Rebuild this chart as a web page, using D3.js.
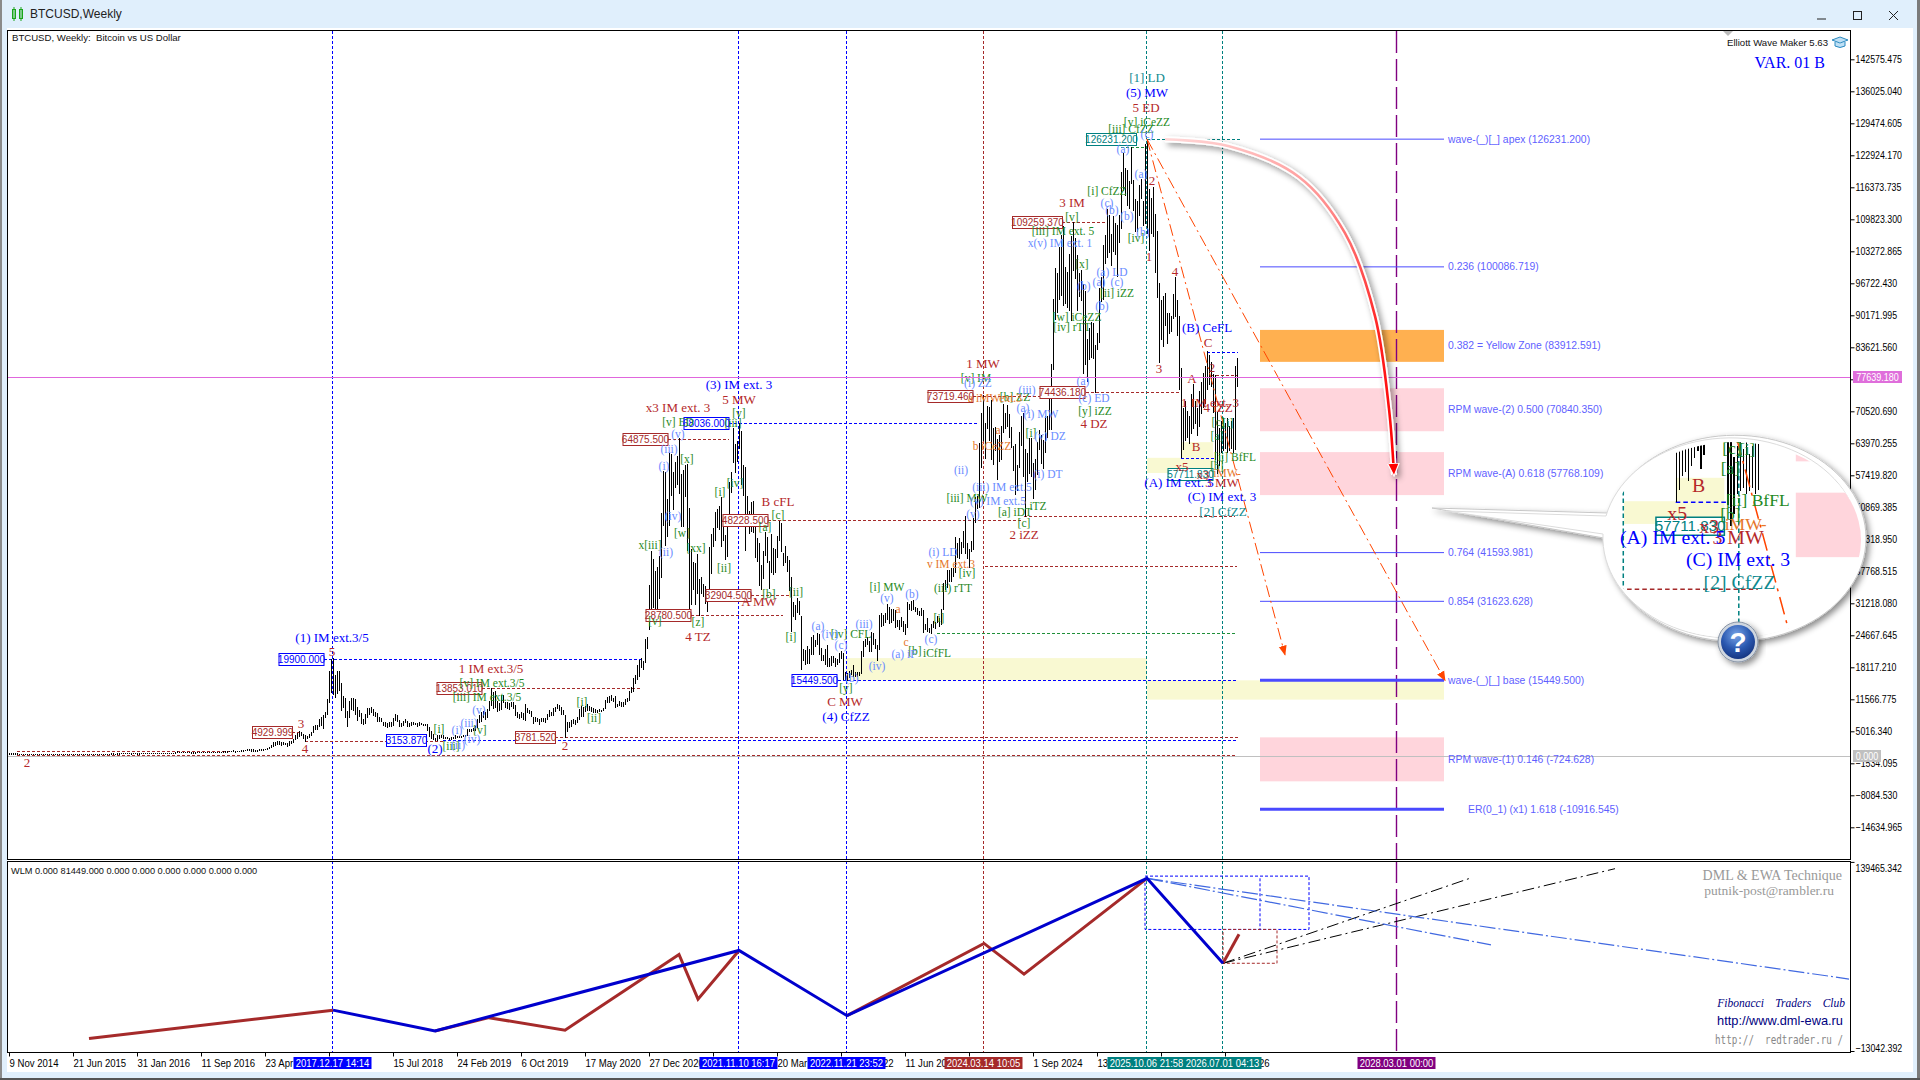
<!DOCTYPE html>
<html><head><meta charset="utf-8">
<script src="https://cdnjs.cloudflare.com/ajax/libs/d3/7.8.5/d3.min.js"></script>
<style>
html,body{margin:0;padding:0;background:#fff;overflow:hidden}
svg{display:block}
text{white-space:pre}
</style></head><body>
<svg id="c" width="1920" height="1080" xmlns="http://www.w3.org/2000/svg"></svg>
<script>
// ---------- weekly bars, in thousands of dollars (index: weeks since 9 Nov 2014)
const segmentStarts=[0,8,60,112,164,216,268,320,372,424,477,529,581];
const highs2014=[.47,.40,.39,.38,.38,.36,.34,.33];
const lows2014=[.36,.34,.35,.36,.35,.31,.30,.31];
const highs2015=[.32,.29,.31,.27,.26,.25,.24,.26,.30,.30,.29,.29,.26, .26,.25,.24,.24,.25,.25,.24,.24,.23,.23,.25,.26,.27, .31,.30,.30,.30,.28,.28,.28,.26,.24,.24,.24,.24,.25, .26,.27,.30,.34,.49,.39,.34,.39,.42,.47,.47,.46,.44];
const lows2015=[.18,.20,.21,.22,.22,.22,.21,.23,.26,.27,.24,.24,.23, .22,.21,.21,.22,.23,.23,.23,.22,.22,.22,.23,.24,.25, .26,.27,.28,.26,.21,.22,.22,.22,.22,.22,.22,.23,.23, .24,.25,.26,.28,.33,.30,.31,.32,.36,.39,.43,.42,.42];
const highs2016=[.46,.46,.40,.42,.39,.38,.40,.44,.45,.44,.42,.42,.42, .42,.42,.43,.47,.47,.46,.46,.46,.49,.55,.70,.78,.72, .68,.67,.68,.68,.66,.61,.59,.58,.61,.62,.61,.61,.61, .62,.64,.65,.69,.72,.74,.75,.75,.78,.79,.80,.92,.98];
const lows2016=[.42,.36,.37,.37,.36,.36,.37,.40,.40,.41,.41,.41,.41, .41,.41,.42,.43,.43,.44,.44,.44,.45,.49,.57,.60,.60, .63,.64,.64,.65,.58,.50,.56,.56,.58,.60,.60,.59,.59, .60,.61,.63,.63,.68,.68,.70,.72,.73,.75,.76,.79,.88];
const highs2017=[1.15,.93,.92,.97,1.03,1.05,1.06,1.20,1.29,1.33,1.28,1.05,1.10, 1.21,1.22,1.21,1.29,1.45,1.76,2.2,2.8,2.65,2.98,2.98,2.8,2.7, 2.6,2.6,2.95,2.9,3.4,4.2,4.5,4.9,4.7,4.4,4.1,3.9,4.4, 4.7,5.9,6.2,6.2,7.5,7.9,8.3,8.8,11.5,17.2,19.7,19.9,16.5];
const lows2017=[.78,.77,.82,.88,.93,.98,.99,1.03,1.18,.98,.93,.89,.95, 1.05,1.16,1.15,1.19,1.27,1.5,1.7,2.0,2.1,2.4,2.4,2.1,2.3, 2.3,2.0,2.2,2.6,2.7,3.3,3.6,4.0,4.1,3.6,2.95,3.5,3.8, 4.2,4.7,5.4,5.4,5.9,6.2,5.5,7.8,8.5,11.0,13.0,12.5,12.0];
const highs2018=[17.2,17.2,14.7,12.2,11.7,9.1,11.2,11.8,11.7,11.5,9.9,9.2,8.7, 7.5,8.4,9.7,9.7,9.9,9.4,8.9,8.6,7.8,7.7,6.9,6.8,6.6, 6.8,6.8,7.6,8.5,8.3,7.3,6.6,7.1,7.4,7.0,6.6,6.8,6.8, 6.7,6.7,6.8,6.7,6.5,6.5,6.5,5.7,5.0,4.4,3.6,4.2,4.2];
const lows2018=[12.8,13.3,9.2,9.9,7.8,6.0,7.9,9.5,9.3,8.5,7.3,8.0,6.6, 6.4,6.6,7.8,8.4,8.8,8.2,8.0,7.0,7.1,7.1,6.2,6.1,5.8, 6.1,6.0,6.2,7.3,7.0,6.0,5.9,6.3,6.8,6.1,6.1,6.3,6.4, 6.4,6.1,6.2,6.4,6.2,6.3,5.1,4.0,3.6,3.4,3.15,3.2,3.6];
const highs2019=[4.1,4.2,3.8,3.7,3.6,3.7,3.7,4.2,3.9,3.9,4.0,4.1,4.1, 5.3,5.4,5.3,5.6,5.9,7.5,8.3,8.9,9.1,8.8,9.4,11.2,13.85, 12.9,13.2,11.1,10.7,12.3,12.3,10.9,10.9,10.8,10.9,10.9,10.3,8.9, 8.5,8.8,8.7,10.4,9.6,9.3,9.1,7.8,7.9,7.6,7.4,7.6,7.6];
const lows2019=[3.7,3.5,3.5,3.5,3.4,3.4,3.6,3.6,3.7,3.8,3.8,3.9,3.9, 4.1,4.9,5.0,5.2,5.2,5.7,6.9,7.0,7.9,7.5,7.9,9.3,10.3, 9.6,9.9,9.1,9.2,9.5,11.0,9.8,9.6,9.5,10.0,9.6,8.2,7.8, 7.7,7.8,7.4,7.3,8.9,8.6,8.0,6.6,7.1,7.1,6.5,7.1,7.0];
const highs2020=[7.6,8.5,9.2,8.9,9.6,9.8,10.5,10.3,9.9,9.2,8.2,6.9,6.9, 7.2,7.4,7.3,7.8,9.4,10.0,9.9,10.0,10.4,10.0,9.9,9.7,9.4, 9.3,9.4,9.3,9.7,11.4,11.9,12.1,12.4,11.8,12.1,10.6,11.1,10.9, 10.9,11.5,11.7,13.2,13.9,15.9,16.5,18.5,19.5,19.9,19.4,23.8,24.3];
const lows2020=[6.9,7.4,8.0,8.3,8.3,9.1,9.6,9.3,8.4,8.4,3.78,5.0,5.8, 5.9,6.7,6.5,6.8,7.5,8.1,8.1,9.0,9.2,9.2,9.0,8.9,8.9, 8.9,9.0,9.1,9.2,9.6,10.9,11.0,11.4,11.2,9.9,10.0,10.2,10.1, 10.1,10.5,11.2,11.3,12.9,13.2,14.8,15.7,16.2,18.1,17.6,19.0,22.0];
const highs2021=[34.8,41.9,40.1,37.8,38.5,40.9,49.7,58.3,58.0,52.5,61.8,61.7,58.0, 60.1,61.2,64.88,57.5,58.4,59.5,59.6,50.6,42.2,39.5,39.3,41.3,36.0, 36.6,35.1,34.6,32.8,42.6,45.3,46.5,49.8,50.5,51.0,52.9,48.8,45.0, 49.0,56.0,58.0,67.0,63.7,64.3,68.04,66.3,59.4,59.0,53.0,50.0,51.9];
const lows2021=[25.9,29.0,30.4,28.9,29.2,32.3,36.6,47.1,43.0,44.9,47.1,53.3,50.4, 55.0,55.5,53.6,47.0,47.0,53.0,42.1,30.0,31.0,34.0,31.0,33.3,28.78, 33.3,32.7,31.2,29.5,32.0,37.3,42.8,44.0,46.7,46.4,42.8,44.1,40.2, 40.8,47.2,53.9,60.0,58.0,60.2,63.0,55.6,53.3,42.0,47.3,45.5,46.0];
const highs2022=[52.1,47.5,44.4,43.5,38.9,41.9,45.8,44.6,39.8,45.4,42.4,42.3,44.8, 48.0,47.5,41.5,42.9,40.8,40.0,36.6,31.3,30.7,32.3,31.6,28.6,21.7, 21.5,22.3,21.8,24.2,24.6,23.7,25.1,24.9,22.0,20.5,21.8,22.6,19.9, 20.4,20.4,19.9,19.7,21.0,21.4,21.0,17.1,16.8,17.3,17.4,18.4,17.0];
const lows2022=[45.8,40.6,39.7,34.8,34.1,36.3,41.0,39.5,34.3,37.5,37.2,37.6,40.5, 44.0,41.9,39.0,39.5,37.7,33.8,25.4,28.6,28.0,29.4,29.0,17.6,19.6, 18.7,18.8,18.9,20.8,20.7,22.4,22.7,20.8,19.6,19.5,18.6,18.3,18.2, 18.5,19.0,18.2,18.7,19.1,20.0,15.6,15.7,15.45,16.0,16.7,16.3,16.3];
const highs2023=[17.0,17.0,21.3,23.4,23.8,24.2,23.4,25.3,25.1,23.9,22.6,28.8,29.2, 28.8,29.1,31.0,30.4,30.0,29.9,29.8,27.7,27.6,28.4,27.5,26.8,31.4, 31.0,31.5,31.8,30.4,30.2,29.6,30.2,29.7,26.8,28.1,26.1,26.9,27.5, 27.3,28.6,28.1,30.0,35.2,35.9,37.9,37.9,38.4,38.4,44.7,43.4,44.4,43.6];
const lows2023=[16.3,16.5,16.9,20.4,22.3,22.8,21.4,21.4,22.8,21.9,19.5,21.8,26.5, 26.6,27.2,28.0,27.1,27.2,27.7,26.3,26.5,25.9,26.5,25.4,24.8,26.2, 29.9,29.8,29.9,29.5,29.0,28.7,28.7,25.2,25.8,25.5,25.3,25.0,26.3, 26.1,27.2,26.5,26.9,29.9,34.0,34.5,35.6,35.7,36.7,37.6,40.6,40.3,41.5];
const highs2024=[45.9,48.9,43.5,42.2,43.8,48.6,52.8,53.0,64.0,70.0,73.72,68.1,71.6, 71.3,72.8,66.9,67.2,64.7,65.5,67.4,71.9,70.0,71.8,69.9,67.2,63.4, 63.8,59.4,66.1,69.4,70.0,62.7,61.8,65.0,64.9,59.8,60.6,64.1,66.5, 65.6,64.5,69.4,69.5,73.6,80.2,93.4,99.8,98.8,104.0,106.5,108.4,99.9];
const lows2024=[42.6,41.5,40.3,38.5,41.9,42.3,47.7,50.6,50.9,59.0,64.5,60.8,66.9, 64.5,60.6,59.6,62.4,56.5,60.2,60.7,66.1,67.1,67.5,65.1,63.2,58.4, 53.5,54.3,59.0,63.6,57.2,49.0,56.1,57.8,57.2,52.6,54.6,57.5,62.6, 59.9,58.9,62.0,65.2,66.8,66.8,79.0,89.4,90.8,93.4,94.2,92.2,92.6];
const highs2025=[99.0,102.7,106.3,109.26,105.9,102.5,98.8,99.4,96.5,95.0,85.3,87.4,88.7, 88.5,84.0,86.4,95.7,97.9,104.4,106.6,111.9,110.7,106.7,110.3,108.9,108.5, 110.5,119.5,123.2,120.2,119.8,117.6,124.5,117.7,113.8,113.4,116.8,118.0,113.4, 125.1,126.23,115.9,114.0,116.4,110.8,107.4,96.6,93.1,94.1,94.6,90.6,90.5];
const lows2025=[91.8,91.2,89.2,99.4,97.8,91.2,94.0,93.3,78.2,80.0,76.6,81.2,81.6, 81.3,74.4,83.1,84.7,92.9,93.4,100.7,102.0,103.1,100.4,103.3,102.6,98.2, 105.0,108.0,115.7,114.7,112.7,112.0,117.2,111.7,107.4,107.3,110.6,114.0,108.6, 109.0,107.0,103.5,106.9,106.3,98.9,93.9,80.6,85.3,83.8,88.1,84.5,86.4];
const highs2026=[90.0,94.5,97.9,93.2,90.0,79.3,71.0,72.5,70.5,69.5,74.0,76.0,72.5,71.0,74.5,76.5,78.3,79.6,82.7,82.0,80.5,78.0,77.9,70.2,67.0,68.5,69.0,68.0,69.0,67.5,68.5,69.0,79.6,81.4];
const lows2026=[86.8,89.5,90.0,86.0,75.0,61.0,62.6,64.5,65.2,64.0,66.0,67.0,68.0,65.5,67.5,70.0,71.4,72.2,74.9,76.0,75.5,70.2,60.6,57.7,59.5,62.0,62.5,63.0,62.0,62.5,63.0,62.0,62.6,75.5];
const highSegments=[highs2014,highs2015,highs2016,highs2017,highs2018,highs2019,highs2020,highs2021,highs2022,highs2023,highs2024,highs2025,highs2026];
const lowSegments=[lows2014,lows2015,lows2016,lows2017,lows2018,lows2019,lows2020,lows2021,lows2022,lows2023,lows2024,lows2025,lows2026];

// ---------- axes
const priceTicks=[142575.475,136025.040,129474.605,122924.170,116373.735,109823.300,103272.865,96722.430,90171.995,83621.560,77071.125,70520.690,63970.255,57419.820,50869.385,44318.950,37768.515,31218.080,24667.645,18117.210,11566.775,5016.340,-1534.095,-8084.530,-14634.965];
const dateTickLabels=["9 Nov 2014","21 Jun 2015","31 Jan 2016","11 Sep 2016","23 Apr 2017","","15 Jul 2018","24 Feb 2019","6 Oct 2019","17 May 2020","27 Dec 2020","","20 Mar 2022","30 Oct 2022","11 Jun 2023","","1 Sep 2024","13 Apr 2025","","5 Jul 2026"];
const wlmTicks=[139465.342,-13042.392];

// ---------- events (label, week, colour name)
const eventTags=[["2017.12.17 14:14",162,"blue"],["2021.11.10 16:17",365,"blue"],["2022.11.21 23:52",419,"blue"],["2024.03.14 10:05",487.5,"brown"],["2025.10.06 21:58",569,"teal"],["2026.07.01 04:13",607,"teal"],["2028.03.01 00:00",694,"purple"]];

// ---------- fibonacci levels
const fibLines=[["wave-(_)[_] apex (126231.200)",126.231,0],["0.236 (100086.719)",100.087,0],["0.382 = Yellow Zone (83912.591)",83.913,null],["RPM wave-(2) 0.500 (70840.350)",70.840,null],["RPM wave-(A) 0.618 (57768.109)",57.768,null],["0.764 (41593.981)",41.594,0],["0.854 (31623.628)",31.624,0],["wave-(_)[_] base (15449.500)",15.450,1],["RPM wave-(1) 0.146 (-724.628)",-0.725,null]];
const fibExtension=["ER(0_1) (x1) 1.618 (-10916.545)",-10.917];
const zoneWeeks=[625.5,717.5];
const zones=[[83.913,3.27,"orange"],[70.840,4.4,"pink"],[57.768,4.4,"pink"],[-0.725,4.5,"pink"]];
const yellowZones=[[418.5,569,15.45,20.0],[569,717.5,11.5,15.45],[569,602,57.9,61.0],[586,602,61.0,64.2]];

// ---------- dashed levels: week from, week to, price, colour
const dashedLevels=[[157.5,316,19.9,"blue"],[236.5,315.5,13.85,"brown"],[4,110,1.05,"brown"],[4,613,0.1,"brown"],[273,614.5,3.78,"brown"],[217,614.5,3.15,"blue"],[141.5,146,4.93,"brown"],[148,217,3.0,"brown"],[341,387,28.78,"brown"],[371,390.5,32.9,"brown"],[329.5,360,64.88,"brown"],[360,484.5,68.04,"blue"],[379.5,506.5,48.23,"brown"],[402,614.5,15.45,"blue"],[482,535,73.72,"brown"],[526,585,74.44,"brown"],[526.5,549,109.26,"brown"],[569,615.5,126.23,"teal"],[464,614,25.2,"green"],[488,614,38.8,"brown"],[507.5,613,49.0,"brown"],[599,614.5,82.7,"blue"],[586,603,61.0,"blue"],[601,614,78.0,"brown"],[556,569,124.6,"green"]];

// ---------- price boxes: text, centre week, price, colour
const priceBoxes=[["19900.000",146,19.9,"blue"],["13853.010",225,13.85,"brown"],["4929.999",131.5,4.93,"brown"],["3153.870",198.5,3.15,"blue"],["3781.520",263,3.78,"brown"],["28780.500",329.5,28.78,"brown"],["32904.500",359.5,32.9,"brown"],["64875.500",318,64.88,"brown"],["68036.000",348.5,68.04,"blue"],["48228.500",368,48.23,"brown"],["15449.500",402.5,15.45,"blue"],["73719.460",470.5,73.72,"brown"],["74436.180",526.5,74.44,"brown"],["109259.370",514,109.26,"brown"],["126231.200",551,126.23,"teal"],["57711.830",590.5,57.71,"teal"]];

// ---------- wave labels: text, week, price
const labelsBlue=[["(1) IM ext.3/5",161.5,24.3],["(2)",213,1.4],["(3) IM ext. 3",365,75.9],["(4) CfZZ",418.5,8.1],["(5) MW",569,135.7],["(A) IM ext. 5",585,56.0],["(C) IM ext. 3",606.5,53.0],["(B) CeFL",599,87.6]];
const labelsTeal=[["[1] LD",569,138.9],["[2] CfZZ",607,49.9]];
const labelsBrown=[["1 IM ext.3/5",241,17.8],["5",161.5,21.4],["3",146,6.5],["4",148,1.4],["2",9,-1.3],["2",278,2.0],["x3 IM ext. 3",334.5,71.2],["5 MW",365,73],["B cFL",384.5,52.1],["A MW",375,31.5],["4 TZ",344.5,24.5],["C MW",418,11],["1 MW",487,80.2],["3 IM",531.5,113.2],["4 DZ",542.5,68.1],["2 iZZ",507.5,45.2],["5 ED",568.5,132.6],["2",571.5,117.7],["1",570,102.1],["3",575,79.2],["4",583,99.2],["A",591.5,77.3],["B",593.5,63.2],["C",599.5,84.5],["2",601.5,79.4],["1 IM ext. 3",600.5,72.4],["4 iZZ",604.5,71.2],["x5",586.5,59.3],["x3",597,57.5],["3 MW",606.5,56.0]];
const labelsGreen=[["[i]",215,5.5],["[iii]",221,2.0],["[v]",235.5,5.3],["[iii] IM ext.3/5",239,12.0],["[v] IM ext.3/5",241.5,14.9],["[i]",286.5,11],["[ii]",292.5,7.7],["x[iii]",320.5,43.1],["[w]",336.5,45.6],["[xx]",343.5,42.5],["[v] ED",334.5,68.3],["[x]",339,60.7],["[z]",344.5,27.4],["[v]",323,27.6],["[v]",365,70.2],["[iii]",362,68.1],["[iv]",363,55.8],["[i]",355.5,54],["[ii]",357.5,38.4],["[c]",384.5,49.3],["[a]",378,46.8],["[b]",380,33.1],["[ii]",393.5,33.5],["[i]",391,24.3],["[iv] CFL",421,24.9],["[y]",418.5,13.9],["[i] MW",439,34.5],["[b]",453,21.4],["iCfFL",464,21],["[i]",465,28.2],["(iii) rTT",472,34.3],["[iv]",479,37.4],["[iii] MW",479,52.8],["[v] IM",483.5,77.3],["[a] iDT",503,49.9],["[c]",507.5,47.6],["[i]",511,66],["iTZ",514.5,51.1],["[b] ZZ",503,73.4],["[iii] IM ext. 5",527,107.4],["[v]",531.5,110.3],["[x]",536.5,100.7],["[w] iCeZZ",534,89.8],["[iv] rTT",531.5,87.8],["[y] iZZ",543,70.6],["[i] CfZZ",549,115.6],["[ii] iZZ",554,94.7],["[iii] CfZZ",561,128.3],["[v] iCeZZ",569,129.7],["[iv]",563.5,106],["[c]",604.5,68.3],["[i]",609.5,68.1],["[a]",604,65.5],["[ii] BfFL",613,61.2],["[b]",604,59.3]];
const labelsLight=[["(i)",224,5.3],["(iii)",230,6.7],["(v)",235,9.4],["(iv)",231.5,3.4],["(ii)",224.5,2.2],["(i)",327.5,59.3],["(iii)",330,62.8],["(v)",334.5,65.9],["(ii)",328.5,41.7],["(iv)",332,49.1],["(a)",404.5,26.6],["(iii)",427.5,27],["(iv)",410.5,24.9],["(c)",416,22.7],["(b)",421.5,15.9],["(iv)",434,18.4],["(v)",439,32.3],["(b)",451.5,33.1],["(a) iF",447.5,20.8],["(c)",461,23.9],["(i) LD",467,41.7],["(i) MW",516,70],["(v) DZ",520.5,65.5],["(i) DT",519.5,57.7],["(iii) IM ext.5",496.5,55],["(v) IM ext.5",494.5,52.1],["(v)",482,49.5],["(ii)",476,58.5],["(i) ZZ",484.5,76.3],["(iii)",509,74.9],["(a)",507,71.2],["(a)",537,76.7],["(c) ED",542.5,73.2],["x(v) IM ext. 1",525.5,105],["(b)",537.5,96.2],["(c)",549,113.1],["(b)",551.5,111.7],["(b)",559,110.5],["(a)",566,119.1],["(a)",557,124.2],["(c)",569,127.3],["(b)",567,107.2],["(a) LD",551.5,99],["(a)",545,97],["(c)",554,97],["(b)",546.5,92.1]];
const labelsOrange=[["b iCeZZ",491.5,63.4],["a",494.5,66.7],["a iMWext.3",493,73.2],["v IM ext.3",471,39.2],["a",444.5,30],["c",448.5,23.3],["iMW-",609,57.9]];

// ---------- projection lines: start [week, price], end [week, price]
const dashedArrows=[[[569,126.23],[718,15.45]],[[569,126.23],[638,20.7]]];
const curvedArrow=[[578,126.2],[610,124.8],[645,118.5],[668,107],[683,90],[690,71],[692.5,57.5]];

// ---------- WLM panel: week, price
const wlmBlue=[[[162,19.9],[213,3.15],[365,68.04],[419,15.45],[569,126.23],[607,57.71]]];
const wlmBrown=[[[40,-3.0],[162,19.9]],[[213,3.15],[240,13.85],[278,3.78],[335,64.88],[344.5,28.78],[365,68.04]],[[419,15.45],[487.5,73.72],[507.5,49.0],[569,126.23]],[[607,57.71],[615,81.1]]];
const wlmBlueBox=[[568,128.0],[650,85.0]];
const wlmBlueDivide=[[625.5,126.23],[625.5,85.0]];
const wlmBrownBox=[[607,85.0],[634,57.71]];
const wlmBlackRays=[[[607,57.71],[730,126.0]],[[607,57.71],[803,134.0]]];
const wlmBlueRays=[[[569,126.23],[920,45.0]],[[569,126.23],[741,72.5]]];

// ---------- palette
const colours={blue:"#0000ff",brown:"#a52a2a",teal:"#008080",purple:"#800080",green:"#1f8f3a",orange:"#ffb050",pink:"#ffd5dc"};

// ---------- scales
const x=d3.scaleLinear().domain([0,32]).range([9,73]);
const yM=d3.scaleLinear().domain([142575.475,-14634.965]).range([59.3,827.3]);
const y=k=>yM(k*1000);
const yWlmScale=d3.scaleLinear().domain([139465.342,-13042.392]).range([861.9,1051]);
const yW=k=>yWlmScale(k*1000);
const xv=w=>Math.floor(x(w))-.5;

const bars=segmentStarts.flatMap((s,i)=>highSegments[i].map((h,j)=>({w:s+j,h,l:lowSegments[i][j]})));

const svg=d3.select("#c");
const defs=svg.append("defs");
defs.append("clipPath").attr("id","paneMain").append("rect").attr("x",8).attr("y",31).attr("width",1842).attr("height",828);
defs.append("clipPath").attr("id","paneSub").append("rect").attr("x",8).attr("y",861).attr("width",1842).attr("height",191);
defs.append("clipPath").attr("id","lens").append("ellipse").attr("cx",1734).attr("cy",540).attr("rx",127).attr("ry",98);
const shadow=defs.append("filter").attr("id","shadow").attr("x","-20%").attr("y","-20%").attr("width","140%").attr("height","140%");
shadow.append("feDropShadow").attr("dx",3).attr("dy",3).attr("stdDeviation",3).attr("flood-color","#000").attr("flood-opacity",.45);
const mk=(id,c)=>{const m=defs.append("marker").attr("id",id).attr("viewBox","0 0 10 10").attr("refX",9).attr("refY",5).attr("markerWidth",10).attr("markerHeight",10).attr("markerUnits","userSpaceOnUse").attr("orient","auto");m.append("path").attr("d","M0,1L10,5L0,9Z").attr("fill",c);};
mk("arrOrange","#ff4500");
const mb=defs.append("marker").attr("id","arrRed").attr("viewBox","0 0 12 12").attr("refX",10).attr("refY",6).attr("markerWidth",14).attr("markerHeight",14).attr("markerUnits","userSpaceOnUse").attr("orient","auto");
mb.append("path").attr("d","M0,1L11,6L0,11Z").attr("fill","#f00").attr("stroke","#fff").attr("stroke-width",1);
const gq=defs.append("radialGradient").attr("id","qb").attr("cx","45%").attr("cy","30%").attr("r","75%");
gq.append("stop").attr("offset","0%").attr("stop-color","#7aa6e8");
gq.append("stop").attr("offset","55%").attr("stop-color","#2a58b0");
gq.append("stop").attr("offset","100%").attr("stop-color","#12307a");
const gr=defs.append("linearGradient").attr("id","curveGrad").attr("gradientUnits","userSpaceOnUse").attr("x1",1165).attr("y1",139).attr("x2",1395).attr("y2",470);
gr.append("stop").attr("offset","0%").attr("stop-color","#ffd8d8");
gr.append("stop").attr("offset","35%").attr("stop-color","#ff9090");
gr.append("stop").attr("offset","70%").attr("stop-color","#ff2020");
gr.append("stop").attr("offset","100%").attr("stop-color","#ff0000");

// ---------- window chrome
const chrome=svg.append("g");
chrome.append("rect").attr("width",1920).attr("height",1080).attr("fill","#e0effc");
chrome.append("rect").attr("x",0).attr("y",0).attr("width",2).attr("height",1080).attr("fill","#8a8a8a");
chrome.append("rect").attr("x",1917).attr("y",0).attr("width",3).attr("height",1080).attr("fill","#7a7a7a");
chrome.append("rect").attr("x",0).attr("y",1078).attr("width",1920).attr("height",2).attr("fill","#555");
chrome.append("rect").attr("x",7).attr("y",28).attr("width",1906).attr("height",1044).attr("fill","#fff");
chrome.append("text").attr("x",30).attr("y",18).attr("font-family","Liberation Sans").attr("font-size",12).attr("fill","#222").text("BTCUSD,Weekly");
[12,19].forEach(xx=>{
  chrome.append("rect").attr("x",xx+.5).attr("y",9.5).attr("width",3).attr("height",9).attr("fill","none").attr("stroke","#1aa51a").attr("stroke-width",1);
  chrome.append("line").attr("x1",xx+2).attr("x2",xx+2).attr("y1",7).attr("y2",21).attr("stroke","#1aa51a").attr("stroke-width",1);
});
chrome.append("line").attr("x1",1817).attr("x2",1826).attr("y1",19).attr("y2",19).attr("stroke","#222");
chrome.append("rect").attr("x",1853.5).attr("y",11.5).attr("width",8).attr("height",8).attr("fill","none").attr("stroke","#222");
chrome.append("path").attr("d","M1889,11L1898,20M1898,11L1889,20").attr("stroke","#222").attr("fill","none");

// ---------- main pane contents
const main=svg.append("g").attr("id","chartContent").attr("clip-path","url(#paneMain)");
main.append("rect").attr("x",8).attr("y",31).attr("width",1842).attr("height",828).attr("fill","#fff");

main.selectAll("rect.yz").data(yellowZones).join("rect").attr("class","yz")
 .attr("x",d=>x(d[0])).attr("width",d=>x(d[1])-x(d[0])).attr("y",d=>y(d[3])).attr("height",d=>y(d[2])-y(d[3])).attr("fill","#f9f9d2");
main.selectAll("rect.zone").data(zones).join("rect").attr("class","zone")
 .attr("x",x(zoneWeeks[0])).attr("width",x(zoneWeeks[1])-x(zoneWeeks[0])).attr("y",d=>y(d[0]+d[1])).attr("height",d=>y(d[0]-d[1])-y(d[0]+d[1])).attr("fill",d=>colours[d[2]]);

main.selectAll("line.ev").data(eventTags).join("line").attr("class","ev")
 .attr("x1",d=>xv(d[1])).attr("x2",d=>xv(d[1])).attr("y1",31).attr("y2",859)
 .attr("stroke",d=>colours[d[2]]).attr("stroke-width",d=>d[2]=="purple"?1.4:1).attr("stroke-dasharray",d=>d[2]=="purple"?"22 6":"3 2");

main.selectAll("line.lvl").data(dashedLevels).join("line").attr("class","lvl")
 .attr("x1",d=>x(d[0])).attr("x2",d=>x(d[1])).attr("y1",d=>Math.round(y(d[2]))+.5).attr("y2",d=>Math.round(y(d[2]))+.5)
 .attr("stroke",d=>colours[d[3]]).attr("stroke-dasharray","3 2").attr("stroke-width",1);

// zero line
main.append("line").attr("x1",8).attr("x2",1850).attr("y1",Math.round(y(0))+.5).attr("y2",Math.round(y(0))+.5).attr("stroke","#c0c0c0");

// price bars
main.selectAll("line.bar").data(bars).join("line").attr("class","bar")
 .attr("x1",d=>x(d.w)+.5).attr("x2",d=>x(d.w)+.5).attr("y1",d=>Math.floor(y(d.h))).attr("y2",d=>Math.max(Math.ceil(y(d.l)),Math.floor(y(d.h))+1))
 .attr("stroke","#000").attr("stroke-width",1).attr("shape-rendering","crispEdges");

// fib lines
main.selectAll("line.fib").data(fibLines.filter(d=>d[2]!==null)).join("line").attr("class","fib")
 .attr("x1",x(zoneWeeks[0])).attr("x2",x(zoneWeeks[1])).attr("y1",d=>y(d[1])).attr("y2",d=>y(d[1]))
 .attr("stroke","#4a4aff").attr("stroke-width",d=>d[2]?3:1);
main.append("line").attr("x1",x(zoneWeeks[0])).attr("x2",x(zoneWeeks[1])).attr("y1",y(fibExtension[1])).attr("y2",y(fibExtension[1])).attr("stroke","#4a4aff").attr("stroke-width",3);
main.selectAll("text.fib").data(fibLines).join("text").attr("class","fib")
 .attr("x",x(zoneWeeks[1])+4).attr("y",d=>y(d[1])+3.5).attr("font-family","Liberation Sans").attr("font-size",10.4).attr("fill","#5f5fff").text(d=>d[0]);
main.append("text").attr("x",x(zoneWeeks[1])+24).attr("y",y(fibExtension[1])+3.5).attr("font-family","Liberation Sans").attr("font-size",10.4).attr("fill","#5f5fff").text(fibExtension[0]);

// dashed projection arrows
main.selectAll("line.pa").data(dashedArrows).join("line").attr("class","pa")
 .attr("x1",d=>x(d[0][0])).attr("y1",d=>y(d[0][1])).attr("x2",d=>x(d[1][0])).attr("y2",d=>y(d[1][1]))
 .attr("stroke","#ff4500").attr("stroke-dasharray","12 4 2 4").attr("marker-end","url(#arrOrange)");

// price boxes
const boxes=main.selectAll("g.box").data(priceBoxes).join("g").attr("class","box");
boxes.append("rect").attr("x",d=>x(d[1])-(d[0].length>9?25:d[0].length>8?22.5:20)+.5).attr("y",d=>Math.round(y(d[2]))-5.5).attr("width",d=>d[0].length>9?50:d[0].length>8?45:40).attr("height",12)
 .attr("fill","#fff").attr("stroke",d=>colours[d[3]]);
boxes.append("text").attr("x",d=>x(d[1])+.5).attr("y",d=>Math.round(y(d[2]))+4).attr("text-anchor","middle").attr("font-family","Liberation Sans").attr("font-size",10).attr("fill",d=>colours[d[3]]).text(d=>d[0]);

// wave labels
function wave(data,fill,size,family){
  main.append("g").selectAll("text").data(data).join("text")
   .attr("x",d=>x(d[1])).attr("y",d=>y(d[2])+size*.34).attr("text-anchor","middle")
   .attr("font-family",family||"Liberation Serif").attr("font-size",size).attr("fill",fill).text(d=>d[0]);
}
wave(labelsGreen,"#1f8a24",11.5);
wave(labelsLight,"#6a8cff",11.5);
wave(labelsOrange,"#e5762a",11.5);
wave(labelsBrown,"#b5282a",13);
wave(labelsBlue,"#0000ff",13);
wave(labelsTeal,"#0f8a8f",13);

// ---------- overlay pane texts and current price
const over=svg.append("g").attr("clip-path","url(#paneMain)");
over.append("line").attr("x1",8).attr("x2",1850).attr("y1",Math.round(yM(77639.18))+.5).attr("y2",Math.round(yM(77639.18))+.5).attr("stroke","#e066dd");
const curveGen=d3.line().x(d=>x(d[0])).y(d=>y(d[1])).curve(d3.curveCatmullRom);
over.append("path").datum(curvedArrow).attr("d",curveGen).attr("fill","none").attr("stroke","#fff").attr("stroke-width",6).attr("filter","url(#shadow)");
over.append("path").datum(curvedArrow).attr("d",curveGen).attr("fill","none").attr("stroke","url(#curveGrad)").attr("stroke-width",2.6).attr("marker-end","url(#arrRed)");

// ---------- WLM pane
const sub=svg.append("g").attr("clip-path","url(#paneSub)");
sub.selectAll("line.ev").data(eventTags).join("line").attr("class","ev")
 .attr("x1",d=>xv(d[1])).attr("x2",d=>xv(d[1])).attr("y1",861).attr("y2",1052)
 .attr("stroke",d=>colours[d[2]]).attr("stroke-width",d=>d[2]=="purple"?1.4:1).attr("stroke-dasharray",d=>d[2]=="purple"?"22 6":"3 2");
const dRect=(p,c)=>sub.append("rect").attr("x",x(p[0][0])).attr("y",yW(p[0][1])).attr("width",x(p[1][0])-x(p[0][0])).attr("height",yW(p[1][1])-yW(p[0][1])).attr("fill","none").attr("stroke",c).attr("stroke-dasharray","3 2");
dRect(wlmBlueBox,"#0000ff");dRect(wlmBrownBox,"#a52a2a");
sub.append("line").attr("x1",x(wlmBlueDivide[0][0])).attr("x2",x(wlmBlueDivide[1][0])).attr("y1",yW(wlmBlueDivide[0][1])).attr("y2",yW(wlmBlueDivide[1][1])).attr("stroke","#0000ff").attr("stroke-dasharray","3 2");
sub.selectAll("line.br").data(wlmBlackRays).join("line").attr("class","br").attr("x1",d=>x(d[0][0])).attr("y1",d=>yW(d[0][1])).attr("x2",d=>x(d[1][0])).attr("y2",d=>yW(d[1][1])).attr("stroke","#000").attr("stroke-dasharray","12 4 2 4");
sub.selectAll("line.blr").data(wlmBlueRays).join("line").attr("class","blr").attr("x1",d=>x(d[0][0])).attr("y1",d=>yW(d[0][1])).attr("x2",d=>x(d[1][0])).attr("y2",d=>yW(d[1][1])).attr("stroke","#4169e1").attr("stroke-width",1.2).attr("stroke-dasharray","16 3 2 3");
const wLine=d3.line().x(d=>x(d[0])).y(d=>yW(d[1]));
sub.selectAll("path.wb").data(wlmBrown).join("path").attr("class","wb").attr("d",wLine).attr("fill","none").attr("stroke","#a52a2a").attr("stroke-width",3);
sub.selectAll("path.wl").data(wlmBlue).join("path").attr("class","wl").attr("d",wLine).attr("fill","none").attr("stroke","#0000cd").attr("stroke-width",3);

const tx=(p,xx,yy,t,o)=>{const e=p.append("text").attr("x",xx).attr("y",yy).text(t).attr("font-family",o.f||"Liberation Sans").attr("font-size",o.s||10).attr("fill",o.c||"#000");if(o.a)e.attr("text-anchor",o.a);if(o.i)e.attr("font-style","italic");return e;};
tx(svg,11,874,"WLM 0.000 81449.000 0.000 0.000 0.000 0.000 0.000 0.000",{s:9.2,c:"#111"});
tx(svg,1842,880,"DML & EWA Technique",{a:"end",s:14,f:"Liberation Serif",c:"#999"});
tx(svg,1834,895,"putnik-post@rambler.ru",{a:"end",s:13.5,f:"Liberation Serif",c:"#999"});
tx(svg,1845,1007,"Fibonacci    Traders    Club",{a:"end",s:11.5,f:"Liberation Serif",c:"#000080",i:1});
tx(svg,1843,1025,"http://www.dml-ewa.ru",{a:"end",s:12.8,c:"#000080"});
tx(svg,1843,1044,"http://  redtrader.ru /",{a:"end",s:13,f:"DejaVu Sans Mono",c:"#888"}).attr("textLength",128).attr("lengthAdjust","spacingAndGlyphs");
tx(svg,12,41,"BTCUSD, Weekly:  Bitcoin vs US Dollar",{s:9.6,c:"#111"});
tx(svg,1828,46,"Elliott Wave Maker 5.63",{a:"end",s:9.6,c:"#111"});
tx(svg,1825,68,"VAR. 01 B",{a:"end",s:16,f:"Liberation Serif",c:"#0000ff"});
svg.append("path").attr("d","M1723,31h10l-5,5z").attr("fill","#bbb");
svg.append("path").attr("d","M1832,40l8,-3l8,3l-8,3z M1835,42v4q5,3 10,0v-4").attr("fill","#bfe0f5").attr("stroke","#2b8ac0");

// ---------- frames
const frames=svg.append("g").attr("fill","none").attr("stroke","#000");
frames.append("rect").attr("x",7.5).attr("y",30.5).attr("width",1843).attr("height",829);
frames.append("rect").attr("x",7.5).attr("y",861.5).attr("width",1843).attr("height",191);

// ---------- axes (narrow rendering like the reference)
const squish=(sel,k)=>sel.each(function(){this.setAttribute("textLength",this.getComputedTextLength()*k);this.setAttribute("lengthAdjust","spacingAndGlyphs");});
const axisFont="Liberation Sans";
const ya=svg.append("g").attr("transform","translate(1850.5,0)").call(d3.axisRight(yM).tickValues(priceTicks).tickSize(4).tickPadding(1).tickFormat(d3.format(".3f")));
ya.select(".domain").remove();
ya.selectAll("text").attr("font-family",axisFont).attr("font-size",11).attr("fill","#000").call(squish,.8);
const wa=svg.append("g").attr("transform","translate(1850.5,0)").call(d3.axisRight(yWlmScale).tickValues(wlmTicks).tickSize(4).tickPadding(1).tickFormat(d3.format(".3f")));
wa.select(".domain").remove();
wa.selectAll("text").attr("font-family",axisFont).attr("font-size",11).attr("fill","#000").attr("dy",(d,i)=>i==0?"0.9em":"0.05em").call(squish,.8);
const xa=svg.append("g").attr("transform","translate(0,1052.5)").call(d3.axisBottom(x).tickValues(dateTickLabels.map((_,i)=>i*32)).tickSize(4).tickPadding(3).tickFormat((d,i)=>dateTickLabels[i]));
xa.select(".domain").remove();
xa.selectAll("text").attr("text-anchor","start").attr("font-family",axisFont).attr("font-size",11).attr("fill","#000").call(squish,.87);

// date tags
const tags=svg.append("g").selectAll("g").data(eventTags).join("g");
tags.append("rect").attr("x",d=>xv(d[1])-39).attr("y",1057).attr("width",78).attr("height",12).attr("fill",d=>colours[d[2]]);
tags.append("text").attr("x",d=>xv(d[1])).attr("y",1066.5).attr("text-anchor","middle").attr("font-family",axisFont).attr("font-size",11).attr("fill","#fff").text(d=>d[0]).call(squish,.86);
// price tags
svg.append("rect").attr("x",1853).attr("y",371).attr("width",49).attr("height",12).attr("fill","#df6edb");
tx(svg,1877.5,381,"77639.180",{a:"middle",s:11,f:axisFont,c:"#fff"}).call(squish,.82);
svg.append("rect").attr("x",1853).attr("y",750).attr("width",28).attr("height",12).attr("fill","#c0c0c0");
tx(svg,1867,760,"0.000",{a:"middle",s:11,f:axisFont,c:"#fff"}).call(squish,.82);

// ---------- magnifying bubble
const bubble=svg.append("g");
bubble.append("path").attr("d","M1432,508 L1608,513 A131,103 0 1 1 1604,538 Z").attr("fill","#fff").attr("stroke","#c8c8c8").attr("stroke-width",1).attr("filter","url(#shadow)");
bubble.append("path").attr("d","M1446,511 L1606,516 A128,100 0 1 1 1603,534 Z").attr("fill","#fff").attr("stroke","#dcdcdc").attr("stroke-width",1);
bubble.append("g").attr("clip-path","url(#lens)").append("use").attr("href","#chartContent").attr("transform","translate(-119.4,-185.5) scale(1.52,1.5)");
bubble.append("circle").attr("cx",1738).attr("cy",642).attr("r",20).attr("fill","#cfd6df").attr("stroke","#8894a5").attr("stroke-width",1).attr("filter","url(#shadow)");
bubble.append("circle").attr("cx",1738).attr("cy",642).attr("r",17).attr("fill","url(#qb)");
tx(bubble,1738,652,"?",{a:"middle",s:28,c:"#fff"}).attr("font-weight","bold");
</script>
</body></html>
